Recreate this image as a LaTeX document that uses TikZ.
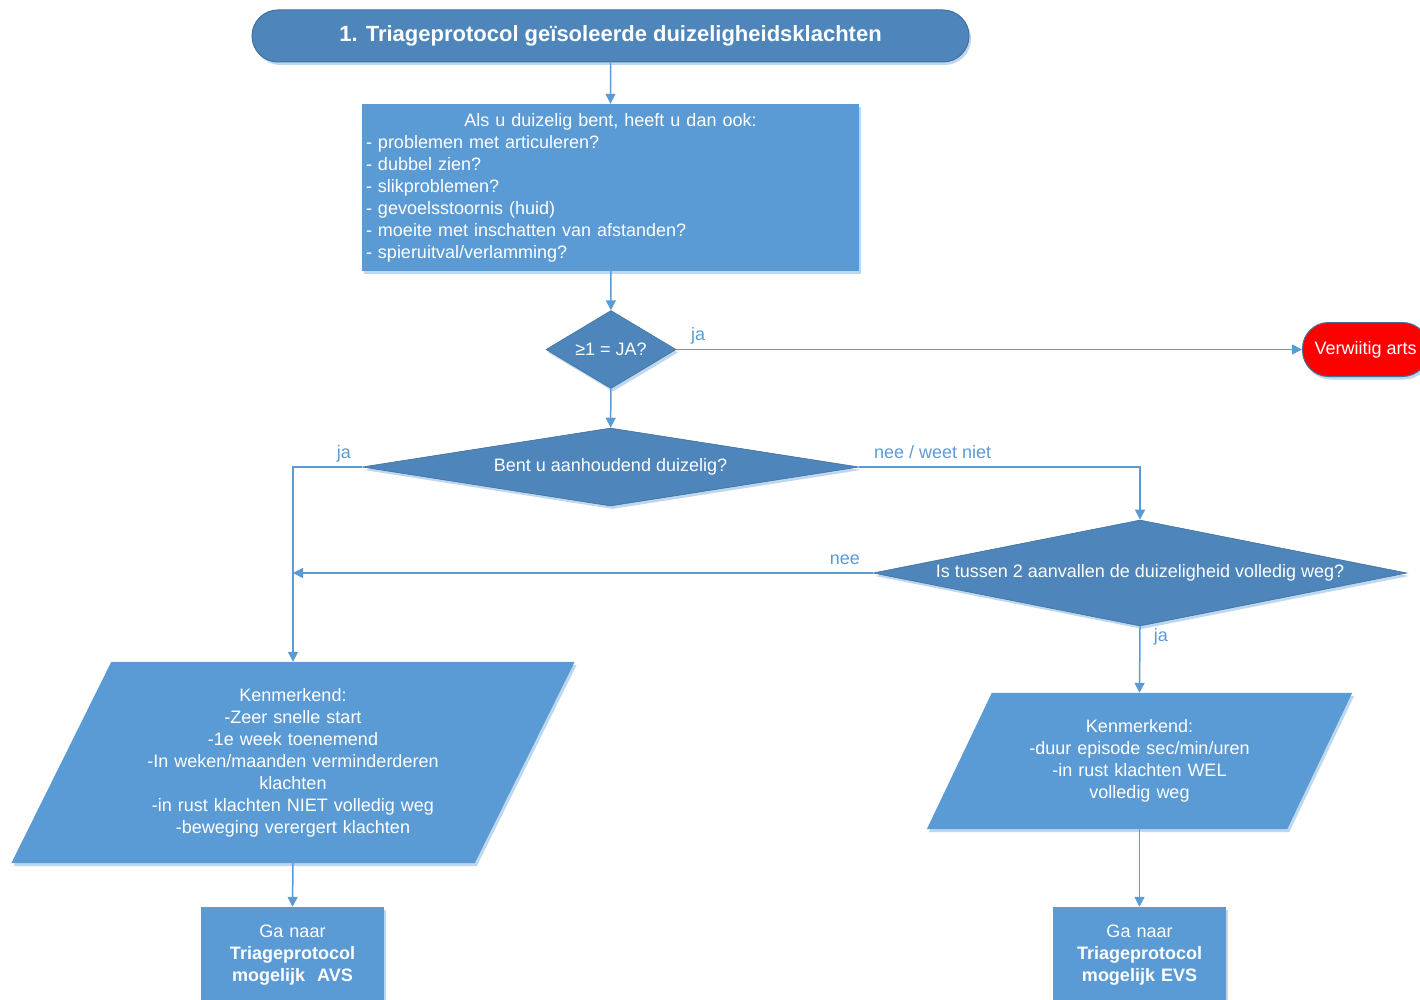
\documentclass[tikz,border=0pt]{standalone}
\usepackage{fontspec}
\setmainfont{Liberation Sans}
\usetikzlibrary{calc}
\usetikzlibrary{arrows.meta}
\usetikzlibrary{shapes.geometric,shapes.misc,shadows,backgrounds}
\definecolor{boxblue}{HTML}{5B9BD5}
\definecolor{deepblue}{HTML}{4E85BB}
\definecolor{rimblue}{HTML}{41719C}
\definecolor{haloblue}{HTML}{BDD7EE}
\definecolor{alarmred}{HTML}{FF0000}

\begin{document}
\begin{tikzpicture}[
        x=1pt,y=-1pt,
        every node/.style={text=white,font=\fontsize{18}{22}\selectfont,inner sep=4pt},
        lift/.style={drop shadow={shadow xshift=2pt,shadow yshift=-3pt,fill=haloblue,opacity=1}},
        lightbox/.style={rectangle,fill=boxblue,lift},
        darkdia/.style={diamond,fill=deepblue,draw=rimblue,line width=0.6pt,inner sep=0pt,lift},
        slantbody/.style={rectangle,align=center},
        lbl/.style={text=boxblue,inner sep=0pt},
        conn/.style={draw=boxblue,line width=1.5pt},
        >={Triangle[length=10pt,width=10pt]}
    ]
        \useasboundingbox (0,0) rectangle (1420,1000);
        % top of the protocol
        \node[rounded rectangle,fill=deepblue,draw=rimblue,line width=1pt,lift,
              minimum width=725pt,minimum height=52pt] (title) at (610.5,36)
              {\bfseries\fontsize{22}{26}\selectfont 1. Triageprotocol geïsoleerde duizeligheidsklachten};
        \node[lightbox,minimum width=497pt,minimum height=167pt,text width=489pt,align=left] (ask) at (610.5,187.5)
              {\makebox[\linewidth][c]{Als u duizelig bent, heeft u dan ook:}\\
               - problemen met articuleren?\\
               - dubbel zien?\\
               - slikproblemen?\\
               - gevoelsstoornis (huid)\\
               - moeite met inschatten van afstanden?\\
               - spieruitval/verlamming?};
        \node[darkdia,minimum width=130pt,minimum height=78pt,aspect=1.67] (many) at (611,349.5) {≥1 = JA?};
        \node[rectangle,rounded corners=26pt,fill=alarmred,draw=rimblue,line width=1pt,lift,
              inner xsep=12pt,minimum height=54pt,anchor=west] (arts) at (1302,349.5) {Verwiitig arts};
        % questions
        \node[darkdia,minimum width=497pt,minimum height=78pt,aspect=6.4] (constant) at (610.5,467) {Bent u aanhoudend duizelig?};
        \node[darkdia,minimum width=534pt,minimum height=106pt,aspect=5.04] (gone) at (1140,573)
              {Is tussen 2 aanvallen de duizeligheid volledig weg?};
        % characteristics
        \node[slantbody,minimum width=463pt,minimum height=201pt,text width=340pt] (para1) at (293,762.5)
              {Kenmerkend:\\-Zeer snelle start\\-1e week toenemend\\-In weken/maanden verminderderen\\klachten\\-in rust klachten NIET volledig weg\\-beweging verergert klachten};
        \node[slantbody,minimum width=360pt,minimum height=136pt,text width=260pt] (para2) at (1139.5,761)
              {Kenmerkend:\\-duur episode sec/min/uren\\-in rust klachten WEL\\volledig weg};
        \begin{scope}[on background layer]
            \fill[boxblue,lift] ($(para1.north west)+(50,0)$) -- ($(para1.north east)+(50,0)$)
                -- ($(para1.south east)+(-50,0)$) -- ($(para1.south west)+(-50,0)$) -- cycle;
            \fill[boxblue,lift] ($(para2.north west)+(32.5,0)$) -- ($(para2.north east)+(32.5,0)$)
                -- ($(para2.south east)+(-32.5,0)$) -- ($(para2.south west)+(-32.5,0)$) -- cycle;
        \end{scope}
        % next protocols
        \node[lightbox,minimum width=183pt,minimum height=96pt,text width=175pt,align=center] (avs) at (292.5,955)
              {Ga naar\\\textbf{Triageprotocol}\\\textbf{mogelijk\ \ AVS}};
        \node[lightbox,minimum width=173pt,minimum height=96pt,text width=165pt,align=center] (evs) at (1139.5,955)
              {Ga naar\\\textbf{Triageprotocol}\\\textbf{mogelijk EVS}};
        \coordinate (meet) at (para1.north |- gone.west);
        \draw[conn,->] (title) -- (ask);
        \draw[conn,->] (ask) -- (many);
        \draw[conn,->] (many) -- node[lbl,pos=0,anchor=base west,xshift=14pt,yshift=9pt]{ja} (arts);
        \draw[conn,->] (many) -- (constant);
        \draw[conn,->] (constant.west) -| node[lbl,pos=0,anchor=base east,xshift=-10pt,yshift=9pt]{ja} (para1.north);
        \draw[conn,->] (constant.east) -| node[lbl,pos=0,anchor=base west,xshift=14pt,yshift=9pt]{nee / weet niet} (gone.north);
        \draw[conn,->] (gone.west) -- node[lbl,pos=0,anchor=base east,xshift=-12pt,yshift=9pt]{nee} (meet);
        \draw[conn,->] (gone.south) -- node[lbl,pos=0,anchor=base west,xshift=13pt,yshift=-15pt]{ja} (para2.north);
        \draw[conn,->] (para1.south) -- (avs.north);
        \draw[conn,->] (para2.south) -- (evs.north);
    \end{tikzpicture}
\end{document}
